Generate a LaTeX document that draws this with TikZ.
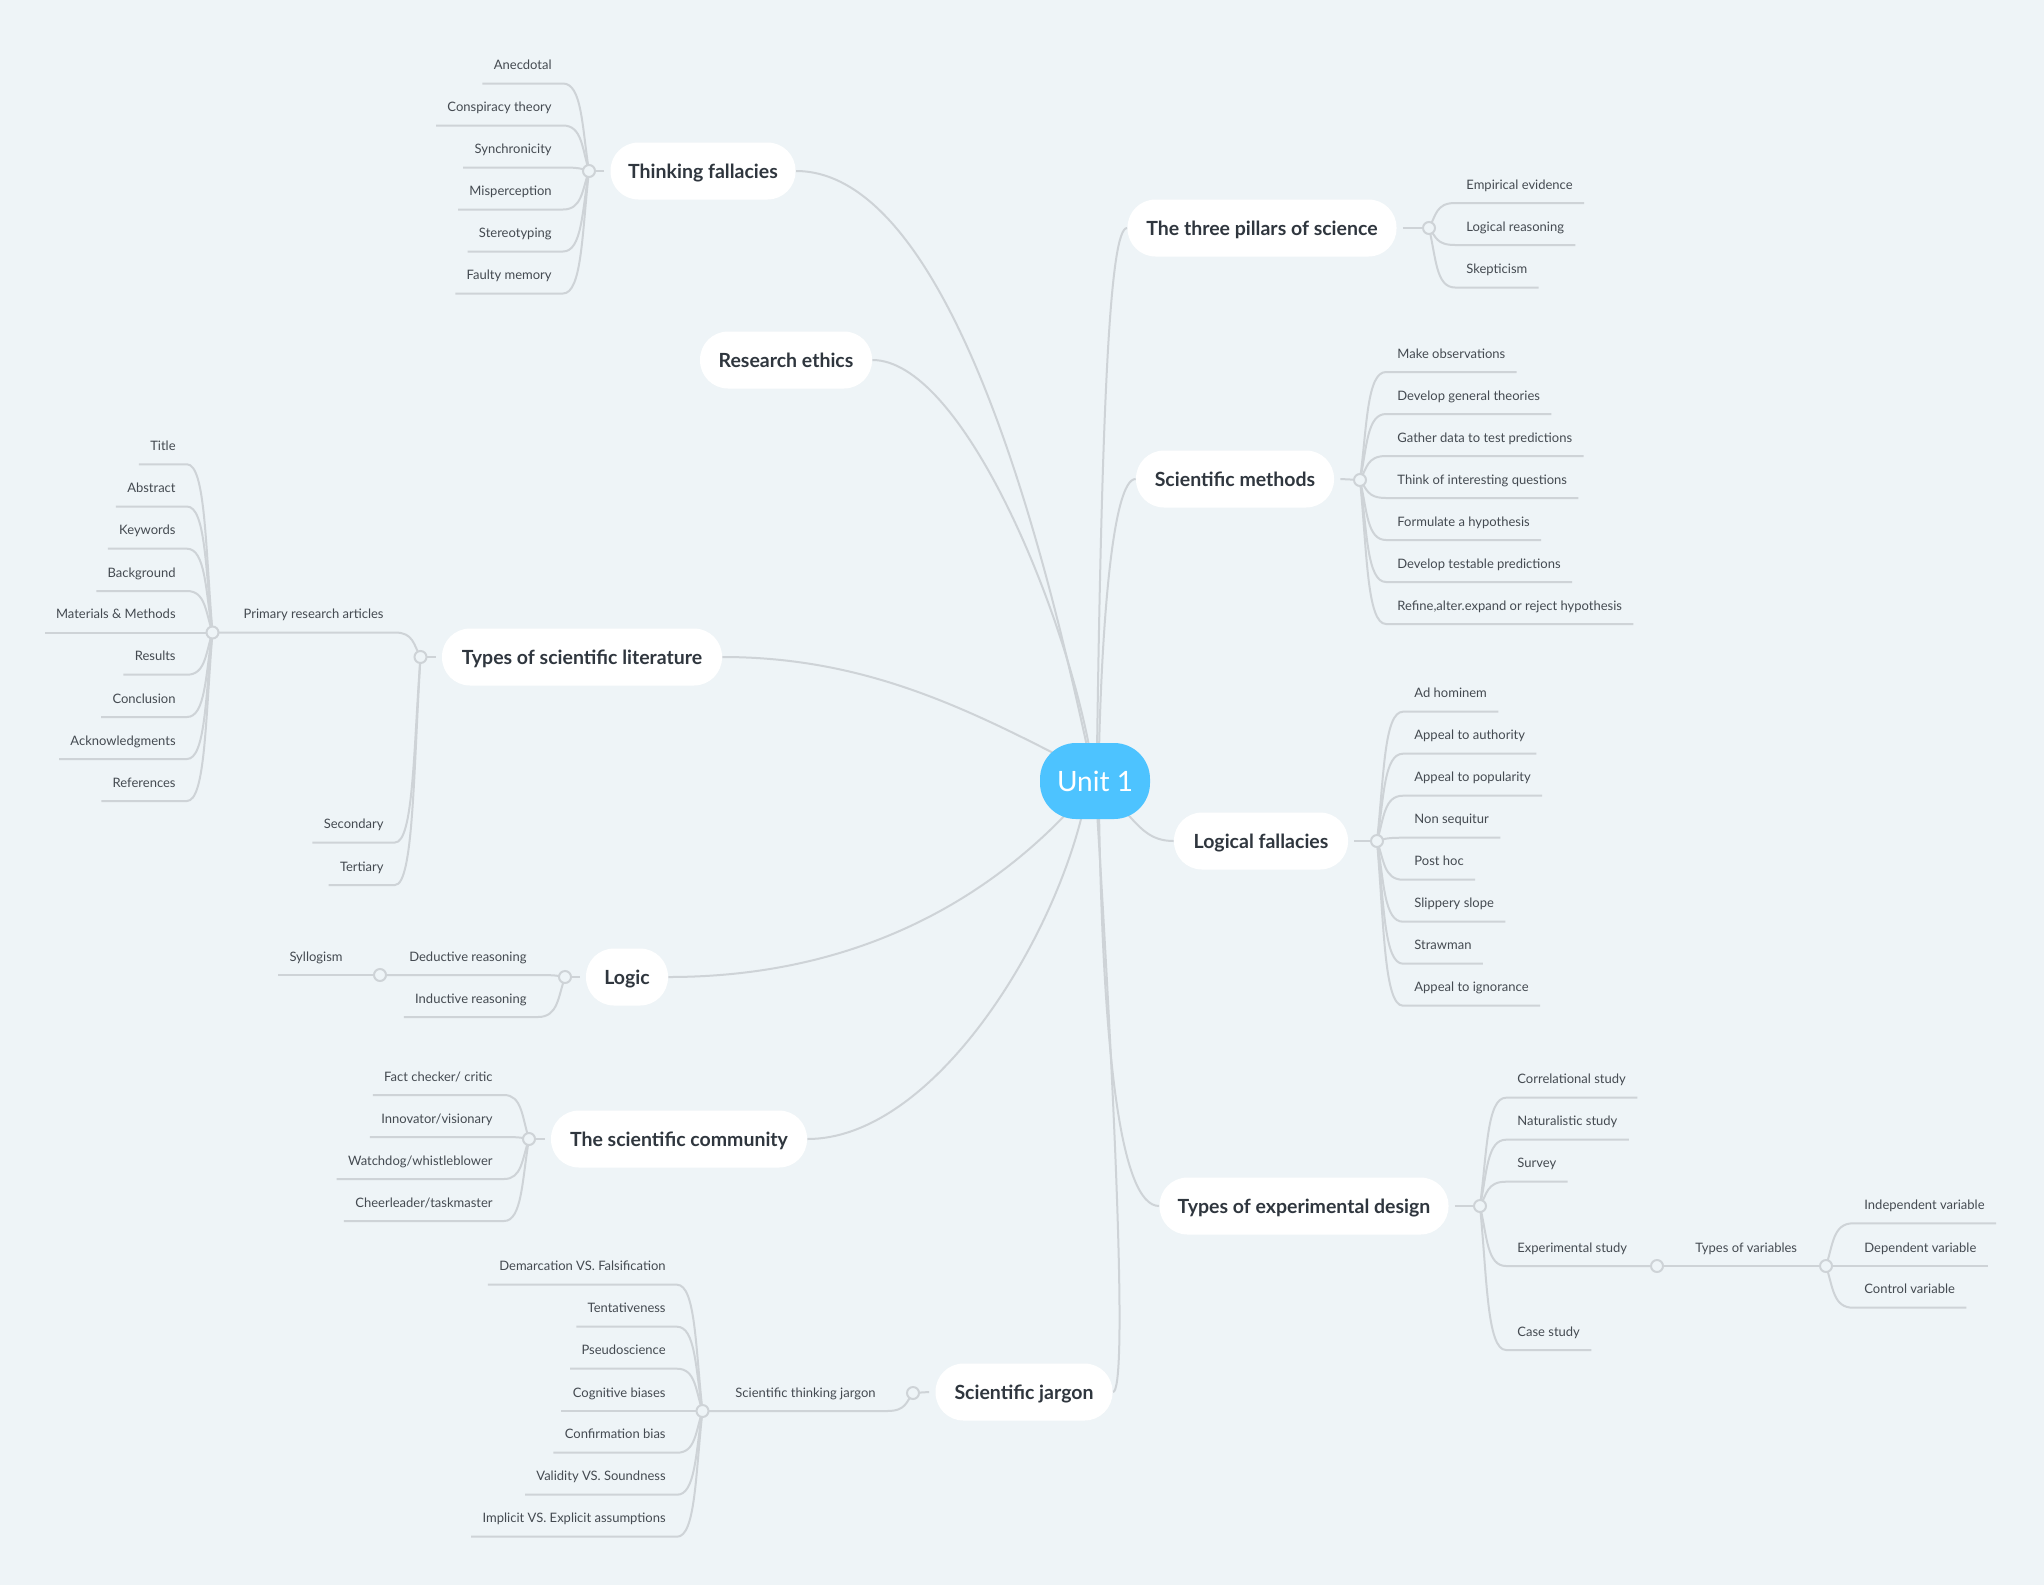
\documentclass[tikz,border=0pt]{standalone}
\usepackage{fontspec}
\setmainfont{Lato}
\usetikzlibrary{calc,backgrounds}
\definecolor{bgc}{HTML}{EEF4F7}
\definecolor{linec}{HTML}{CED3D7}
\definecolor{topc}{HTML}{2F363E}
\definecolor{leafc}{HTML}{444A51}
\definecolor{unitc}{HTML}{4DC3FF}
\newcommand\bL[3]{\draw[conn] let \p1=(#1.center), \p2=(#2.south east) in (\p1) .. controls ({\x1-3.5pt},{(\y1+\y2)/2}) and ({\x1-3.5pt},\y2) .. (\p2) -- (#3);}
\newcommand\bR[3]{\draw[conn] let \p1=(#1.center), \p2=(#2.south west) in (\p1) .. controls ({\x1+3.5pt},{(\y1+\y2)/2}) and ({\x1+3.5pt},\y2) .. (\p2) -- (#3);}
\begin{document}
\begin{tikzpicture}[x=0.5pt,y=-0.5pt,
 conn/.style={draw=linec, line width=1pt},
 topic/.style={fill=white, rounded corners=14pt, minimum height=28.5pt, inner xsep=8pt, inner ysep=0pt, text height=7.1pt, text depth=0pt, font=\fontsize{9.75}{11}\selectfont\bfseries, text=topc},
 dotn/.style={circle, draw=linec, fill=bgc, line width=1pt, minimum size=6pt, inner sep=0pt},
 leaf/.style={font=\fontsize{6.5}{8}\selectfont, text=leafc, inner xsep=5.5pt, inner ysep=6.75pt, text depth=0pt},
 leafL/.style={leaf, anchor=south east},
 leafR/.style={leaf, anchor=south west}]

\begin{pgfonlayer}{background}
\fill[bgc] (0,0) rectangle (2044,1585);
\end{pgfonlayer}
\path[use as bounding box] (0,0) rectangle (2044,1585);

% central node
\node[fill=unitc, rounded corners=18pt, minimum width=55pt, minimum height=38pt, text=white, font=\fontsize{14}{16}\selectfont] (unit) at (1095,781) {Unit 1};

% main topics
\node[topic, minimum width=92.5pt] (TF) at (703,171) {Thinking fallacies};
\node[topic, minimum width=86pt] (RE) at (786,360) {Research ethics};
\node[topic, minimum width=140pt] (TL) at (582,657) {Types of scientific literature};
\node[topic, minimum width=41pt] (LO) at (627,977) {Logic};
\node[topic, minimum width=128pt] (SC) at (679,1139) {The scientific community};
\node[topic, minimum width=88.5pt] (SJ) at (1024,1392) {Scientific jargon};
\node[topic, minimum width=134.5pt] (TP) at (1262,228) {The three pillars of science};
\node[topic, minimum width=99pt] (SM) at (1235,479) {Scientific methods};
\node[topic, minimum width=87pt] (LF) at (1261,841) {Logical fallacies};
\node[topic, minimum width=144.5pt] (ED) at (1304,1206) {Types of experimental design};

% dots
\node[dotn] (TFd) at (589,171) {};
\node[dotn] (TLd) at (420.5,657) {};
\node[dotn] (Pd) at (212.5,632.5) {};
\node[dotn] (LOd) at (565,977) {};
\node[dotn] (Dd) at (380,975) {};
\node[dotn] (SCd) at (529,1139) {};
\node[dotn] (SJd) at (913,1393) {};
\node[dotn] (TJd) at (702.5,1411) {};
\node[dotn] (TPd) at (1429,228) {};
\node[dotn] (SMd) at (1360,480) {};
\node[dotn] (LFd) at (1377,841) {};
\node[dotn] (EDd) at (1480,1206) {};
\node[dotn] (Xd) at (1657,1266) {};
\node[dotn] (Vd) at (1826,1266) {};

% leaves: Thinking fallacies
\foreach \k/\y/\t in {1/83.5/{Anecdotal},2/125.5/{Conspiracy theory},3/167.5/{Synchronicity},4/209.5/{Misperception},5/251.5/{Stereotyping},6/293.5/{Faulty memory}}
  {\node[leafL] (tf\k) at (563,\y) {\t};}
% Types of scientific literature
\node[leafL] (prim) at (395,632.5) {Primary research articles};
\node[leafL] (sec) at (395,842.5) {Secondary};
\node[leafL] (ter) at (395,885) {Tertiary};
\foreach \k/\y/\t in {1/464.3/{Title},2/506.5/{Abstract},3/548.7/{Keywords},4/591/{Background},5/632.5/{Materials \& Methods},6/674.7/{Results},7/717/{Conclusion},8/759/{Acknowledgments},9/801/{References}}
  {\node[leafL] (p\k) at (187,\y) {\t};}
% Logic
\node[leafL] (ded) at (538,975) {Deductive reasoning};
\node[leafL] (ind) at (538,1017) {Inductive reasoning};
\node[leafL] (syl) at (354,975) {Syllogism};
% Scientific community
\foreach \k/\y/\t in {1/1095/{Fact checker/ critic},2/1137/{Innovator/visionary},3/1179/{Watchdog/whistleblower},4/1221/{Cheerleader/taskmaster}}
  {\node[leafL] (sc\k) at (504,\y) {\t};}
% Scientific jargon
\node[leafL] (tj) at (887,1411) {Scientific thinking jargon};
\foreach \k/\y/\t in {1/1284.7/{Demarcation VS. Falsification},2/1326.7/{Tentativeness},3/1368.7/{Pseudoscience},4/1411/{Cognitive biases},5/1452.7/{Confirmation bias},6/1494.7/{Validity VS. Soundness},7/1536.7/{Implicit VS. Explicit assumptions}}
  {\node[leafL] (j\k) at (677,\y) {\t};}
% Three pillars
\foreach \k/\y/\t in {1/203/{Empirical evidence},2/245/{Logical reasoning},3/287.5/{Skepticism}}
  {\node[leafR] (tp\k) at (1455,\y) {\t};}
% Scientific methods
\foreach \k/\y/\t in {1/372/{Make observations},2/414/{Develop general theories},3/456/{Gather data to test predictions},4/498/{Think of interesting questions},5/540/{Formulate a hypothesis},6/582/{Develop testable predictions},7/624/{Refine,alter.expand or reject hypothesis}}
  {\node[leafR] (sm\k) at (1386,\y) {\t};}
% Logical fallacies
\foreach \k/\y/\t in {1/711.7/{Ad hominem},2/753.7/{Appeal to authority},3/795.7/{Appeal to popularity},4/837.7/{Non sequitur},5/879.7/{Post hoc},6/921.7/{Slippery slope},7/963.7/{Strawman},8/1005.7/{Appeal to ignorance}}
  {\node[leafR] (lf\k) at (1403,\y) {\t};}
% Experimental design
\foreach \k/\y/\t in {1/1097.7/{Correlational study},2/1139.7/{Naturalistic study},3/1181.7/{Survey},4/1266/{Experimental study},5/1350/{Case study}}
  {\node[leafR] (e\k) at (1506,\y) {\t};}
\node[leafR] (tv) at (1684,1266) {Types of variables};
\foreach \k/\y/\t in {1/1223.3/{Independent variable},2/1266/{Dependent variable},3/1307.7/{Control variable}}
  {\node[leafR] (v\k) at (1853,\y) {\t};}

\begin{pgfonlayer}{background}
% main connectors
\draw[conn] (TF.east) .. controls (960,171) and (1055,600) .. ([shift={(-7,-30)}]unit.center);
\draw[conn] (RE.east) .. controls (960,360) and (1062,600) .. ([shift={(-5,-30)}]unit.center);
\draw[conn] (TL.east) .. controls (860,657) and (960,705) .. ([shift={(-30,-22)}]unit.center);
\draw[conn] (LO.east) .. controls (850,977) and (980,905) .. ([shift={(-26,30)}]unit.center);
\draw[conn] (SC.east) .. controls (930,1139) and (1050,950) .. ([shift={(-12,30)}]unit.center);
\draw[conn] (SJ.east) .. controls (1128,1392) and (1115,1100) .. ([shift={(2,30)}]unit.center);
\draw[conn] (TP.west) .. controls (1110,228) and (1102,400) .. ([shift={(2,-30)}]unit.center);
\draw[conn] (SM.west) .. controls (1113,479) and (1102,620) .. ([shift={(4,-30)}]unit.center);
\draw[conn] (LF.west) .. controls (1150,841) and (1140,828) .. ([shift={(28,28)}]unit.center);
\draw[conn] (ED.west) .. controls (1120,1206) and (1103,1050) .. ([shift={(4,30)}]unit.center);
% topic to dot
\draw[conn] ([xshift=-3pt]TF.west) -- (TFd.center);
\draw[conn] ([xshift=-3pt]TL.west) -- (TLd.center);
\draw[conn] ([xshift=-3pt]LO.west) -- (LOd.center);
\draw[conn] ([xshift=-3pt]SC.west) -- (SCd.center);
\draw[conn] ([xshift=-3pt]SJ.west) -- (SJd.center);
\draw[conn] ([xshift=3pt]TP.east) -- (TPd.center);
\draw[conn] ([xshift=3pt]SM.east) -- (SMd.center);
\draw[conn] ([xshift=3pt]LF.east) -- (LFd.center);
\draw[conn] ([xshift=3pt]ED.east) -- (EDd.center);
% branches
\foreach \k in {1,...,6} {\bL{TFd}{tf\k}{tf\k.south west}}
\bL{TLd}{prim}{Pd.center}
\bL{TLd}{sec}{sec.south west}
\bL{TLd}{ter}{ter.south west}
\foreach \k in {1,...,9} {\bL{Pd}{p\k}{p\k.south west}}
\bL{LOd}{ded}{Dd.center}
\bL{LOd}{ind}{ind.south west}
\bL{Dd}{syl}{syl.south west}
\foreach \k in {1,...,4} {\bL{SCd}{sc\k}{sc\k.south west}}
\bL{SJd}{tj}{TJd.center}
\foreach \k in {1,...,7} {\bL{TJd}{j\k}{j\k.south west}}
\foreach \k in {1,...,3} {\bR{TPd}{tp\k}{tp\k.south east}}
\foreach \k in {1,...,7} {\bR{SMd}{sm\k}{sm\k.south east}}
\foreach \k in {1,...,8} {\bR{LFd}{lf\k}{lf\k.south east}}
\foreach \k in {1,2,3,5} {\bR{EDd}{e\k}{e\k.south east}}
\bR{EDd}{e4}{Xd.center}
\draw[conn] (Xd.center) -- (Vd.center);
\foreach \k in {1,...,3} {\bR{Vd}{v\k}{v\k.south east}}
\end{pgfonlayer}
\end{tikzpicture}
\end{document}
